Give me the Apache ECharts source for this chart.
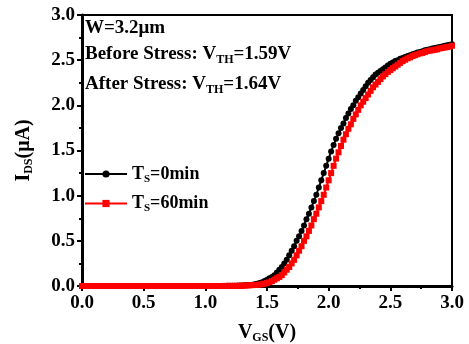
<!DOCTYPE html>
<html><head><meta charset="utf-8">
<script src="https://cdn.jsdelivr.net/npm/echarts@6/dist/echarts.min.js"></script>
<style>html,body{margin:0;padding:0;background:#fff}#c{width:469px;height:344px}</style>
</head><body><div id="c"></div>
<script>
const vgs = [0.00,0.02,0.04,0.06,0.08,0.10,0.12,0.14,0.16,0.18,0.20,0.22,0.24,0.26,0.28,0.30,0.32,0.34,0.36,0.38,0.40,0.42,0.44,0.46,0.48,0.50,0.52,0.54,0.56,0.58,0.60,0.62,0.64,0.66,0.68,0.70,0.72,0.74,0.76,0.78,0.80,0.82,0.84,0.86,0.88,0.90,0.92,0.94,0.96,0.98,1.00,1.02,1.04,1.06,1.08,1.10,1.12,1.14,1.16,1.18,1.20,1.22,1.24,1.26,1.28,1.30,1.32,1.34,1.36,1.38,1.40,1.42,1.44,1.46,1.48,1.50,1.52,1.54,1.56,1.58,1.60,1.62,1.64,1.66,1.68,1.70,1.72,1.74,1.76,1.78,1.80,1.82,1.84,1.86,1.88,1.90,1.92,1.94,1.96,1.98,2.00,2.02,2.04,2.06,2.08,2.10,2.12,2.14,2.16,2.18,2.20,2.22,2.24,2.26,2.28,2.30,2.32,2.34,2.36,2.38,2.40,2.42,2.44,2.46,2.48,2.50,2.52,2.54,2.56,2.58,2.60,2.62,2.64,2.66,2.68,2.70,2.72,2.74,2.76,2.78,2.80,2.82,2.84,2.86,2.88,2.90,2.92,2.94,2.96,2.98,3.00];

// T_S = 0 min (black)
const ids0 = [0,0,0,0,0,0,0,0,0,0,0,0,0,0,0,0,0,0,0,0,0,0,0,0,0,0,0,0,0,0,0,0,0,0,0,0,0,0,0,0,0,0,0,0,0,0,0,0,0,0,
0,0,0,0,0,0,0.001,0.001,0.001,0.002,0.002,0.002,0.003,0.004,0.005,0.006,0.008,0.010,0.012,0.015,0.018,0.025,0.032,0.042,0.055,0.07,0.085,0.10,0.12,0.15,
0.18,0.21,0.25,0.29,0.34,0.39,0.44,0.50,0.55,0.61,0.67,0.74,0.80,0.87,0.94,1.01,1.09,1.17,1.25,1.33,1.41,1.49,1.56,1.63,1.69,1.75,1.80,1.86,1.91,1.96,
2.00,2.05,2.09,2.13,2.17,2.21,2.25,2.28,2.31,2.34,2.36,2.38,2.40,2.42,2.44,2.46,2.475,2.49,2.50,2.515,2.525,2.535,2.545,2.555,2.565,2.575,2.585,2.59,2.60,2.61,
2.615,2.62,2.63,2.635,2.64,2.645,2.65,2.66,2.665,2.67,2.675];

// T_S = 60 min (red)
const ids60 = [0,0,0,0,0,0,0,0,0,0,0,0,0,0,0,0,0,0,0,0,0,0,0,0,0,0,0,0,0,0,0,0,0,0,0,0,0,0,0,0,0,0,0,0,0,0,0,0,0,0,
0,0,0,0,0,0,0,0,0.001,0.001,0.001,0.001,0.002,0.002,0.003,0.003,0.005,0.006,0.008,0.010,0.011,0.013,0.016,0.020,0.026,0.033,0.042,0.055,0.07,0.085,
0.10,0.12,0.15,0.18,0.21,0.25,0.29,0.34,0.39,0.44,0.50,0.55,0.61,0.67,0.74,0.80,0.87,0.94,1.01,1.09,1.17,1.25,1.33,1.41,1.48,1.55,1.62,1.68,1.74,1.79,
1.85,1.90,1.95,2.00,2.04,2.08,2.12,2.16,2.20,2.23,2.26,2.29,2.32,2.345,2.37,2.39,2.41,2.43,2.45,2.47,2.49,2.505,2.52,2.53,2.545,2.555,2.565,2.575,2.58,2.59,
2.60,2.605,2.61,2.615,2.62,2.63,2.635,2.64,2.645,2.65,2.66];

const seriesNames = ['T_S=0min', 'T_S=60min'];
const xTicks = [0, 0.5, 1.0, 1.5, 2.0, 2.5, 3.0];
const yTicks = [0, 0.5, 1.0, 1.5, 2.0, 2.5, 3.0];

const FONT = '"Liberation Serif","Times New Roman",serif';
const chart = echarts.init(document.getElementById('c'), null, {renderer: 'canvas'});
const sub = {fontFamily: FONT, fontWeight: 'bold', fontSize: 11, color: '#000', padding: [10, 0, 0, 0]};
const main = {fontFamily: FONT, fontWeight: 'bold', fontSize: 18, color: '#000'};
const annMain = Object.assign({}, main, {fontSize: 19});
const annSub = Object.assign({}, sub, {fontSize: 12, padding: [11, 0, 0, 0]});

const axisCommon = {
  type: 'value', min: 0, max: 3, interval: 0.5,
  axisLine: {show: true, lineStyle: {color: '#000', width: 3}},
  axisTick: {show: true, inside: false, length: 5, lineStyle: {color: '#000', width: 2}},
  minorTick: {show: true, splitNumber: 2, length: 3, lineStyle: {color: '#000', width: 2}},
  splitLine: {show: false},
  axisLabel: {fontFamily: FONT, fontWeight: 'bold', fontSize: 19, color: '#000',
    formatter: v => (Math.round(v * 10) / 10).toFixed(1)}
};

chart.setOption({
  animation: false,
  grid: {left: 82, right: 17, top: 15, bottom: 58, show: true, borderColor: '#000', borderWidth: 2,
         containLabel: false, outerBoundsMode: 'none'},
  xAxis: Object.assign({}, axisCommon, {
    axisLabel: Object.assign({}, axisCommon.axisLabel, {margin: 8}),
    name: '{m|V}{s|GS}{m|(V)}', nameLocation: 'middle', nameGap: 35,
    nameTextStyle: {rich: {m: Object.assign({}, main, {fontSize: 20}), s: Object.assign({}, sub, {fontSize: 12, padding: [11, 0, 0, 0]})}}
  }),
  yAxis: Object.assign({}, axisCommon, {
    axisLabel: Object.assign({}, axisCommon.axisLabel, {margin: 7}),
    name: '{m|I}{s|DS}{m|(μA)}', nameLocation: 'middle', nameGap: 47, nameRotate: 90,
    nameTextStyle: {rich: {m: Object.assign({}, main, {fontSize: 20}), s: Object.assign({}, sub, {fontSize: 12, padding: [11, 0, 0, 0]})}}
  }),
  legend: {
    orient: 'vertical', left: 79, top: 160, itemGap: 10, itemWidth: 42, itemHeight: 9,
    data: seriesNames,
    formatter: n => '{m|T}{s|S}{m|=' + n.split('=')[1] + '}',
    textStyle: {rich: {m: main, s: sub}}
  },
  title: [
    {left: 85, top: 19, padding: 0, text: 'W=3.2μm', textStyle: annMain},
    {left: 85, top: 43, padding: 0, text: '{m|Before Stress: V}{s|TH}{m|=1.59V}', textStyle: {rich: {m: annMain, s: annSub}}},
    {left: 85, top: 73, padding: 0, text: '{m|After Stress: V}{s|TH}{m|=1.64V}', textStyle: {rich: {m: annMain, s: annSub}}}
  ],
  series: [
    {name: seriesNames[0], type: 'line', data: vgs.map((v, i) => [v, ids0[i]]),
     symbol: 'circle', symbolSize: 6, showAllSymbol: true,
     itemStyle: {color: '#000'}, lineStyle: {color: '#000', width: 2}, z: 2},
    {name: seriesNames[1], type: 'line', data: vgs.map((v, i) => [v, ids60[i]]),
     symbol: 'rect', symbolSize: 6, showAllSymbol: true,
     itemStyle: {color: '#ff0000'}, lineStyle: {color: '#ff0000', width: 2}, z: 3}
  ]
});
</script></body></html>
